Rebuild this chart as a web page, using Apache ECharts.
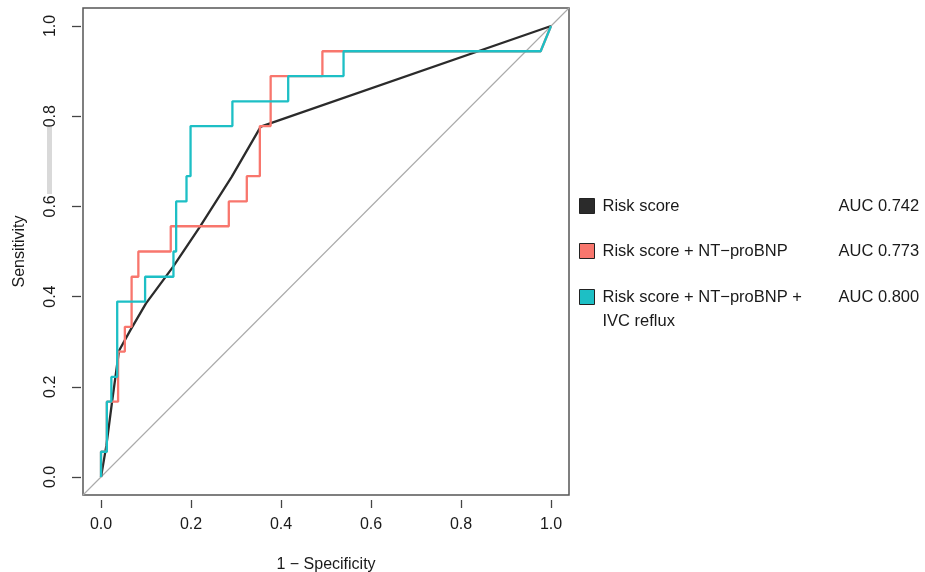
<!DOCTYPE html>
<html><head><meta charset="utf-8">
<script src="https://cdn.jsdelivr.net/npm/echarts@6/dist/echarts.min.js"></script>
<style>html,body{margin:0;padding:0;background:#fff}#c{width:925px;height:572px}</style>
</head><body><div id="c"></div>
<script>
// ---- data ----
const seriesNames = ['Risk score', 'Risk score + NT−proBNP', 'Risk score + NT−proBNP + IVC reflux'];
const aucLabels = ['AUC 0.742', 'AUC 0.773', 'AUC 0.800'];
const seriesColors = ['#2b2b2b', '#F8766D', '#1DBFC5'];

// Risk score (1 - specificity, sensitivity)
const riskX = [0, 0.012, 0.025, 0.04, 0.065, 0.10, 0.16, 0.22, 0.29, 0.355, 1];
const riskY = [0, 0.07, 0.17, 0.28, 0.325, 0.385, 0.466, 0.555, 0.665, 0.777, 1];

// Risk score + NT-proBNP
const ntX = [0, 0, 0.013, 0.013, 0.038, 0.038, 0.053, 0.053, 0.068, 0.068, 0.083, 0.083, 0.155, 0.155, 0.284, 0.284, 0.324, 0.324, 0.353, 0.353, 0.377, 0.377, 0.492, 0.492, 0.977, 1];
const ntY = [0, 0.056, 0.056, 0.167, 0.167, 0.278, 0.278, 0.333, 0.333, 0.444, 0.444, 0.5, 0.5, 0.556, 0.556, 0.611, 0.611, 0.667, 0.667, 0.778, 0.778, 0.889, 0.889, 0.944, 0.944, 1];

// Risk score + NT-proBNP + IVC reflux
const ivcX = [0, 0, 0.013, 0.013, 0.023, 0.023, 0.036, 0.036, 0.098, 0.098, 0.161, 0.161, 0.167, 0.167, 0.19, 0.19, 0.199, 0.199, 0.292, 0.292, 0.416, 0.416, 0.539, 0.539, 0.977, 1];
const ivcY = [0, 0.056, 0.056, 0.167, 0.167, 0.222, 0.222, 0.389, 0.389, 0.444, 0.444, 0.5, 0.5, 0.611, 0.611, 0.667, 0.667, 0.778, 0.778, 0.833, 0.833, 0.889, 0.889, 0.944, 0.944, 1];

// reference diagonal (spans the whole plot box)
const diagX = [-0.04, 1.04];
const diagY = [-0.04, 1.04];

const tickInterval = 0.2;

// ---- chart ----
const FONT = '"Liberation Sans", Arial, Helvetica, sans-serif';
const TXT = '#1a1a1a';
const zip = (xs, ys) => xs.map((x, i) => [x, ys[i]]);

const chart = echarts.init(document.getElementById('c'), null, {renderer: 'canvas'});

function legendFor(i, top, twoLine) {
  return {
    show: true,
    data: [seriesNames[i]],
    orient: 'vertical',
    left: 579,
    top: top,
    padding: 0,
    itemWidth: 15,
    itemHeight: 15,
    itemGap: 0,
    icon: 'rect',
    selectedMode: false,
    itemStyle: {color: seriesColors[i], borderColor: '#222', borderWidth: 1},
    formatter: function (name) {
      if (twoLine) {
        return '{n|Risk score + NT−proBNP +}{v|' + aucLabels[i] + '}\n{n|IVC reflux}';
      }
      return '{n|' + name + '}{v|' + aucLabels[i] + '}';
    },
    textStyle: {
      fontFamily: FONT, fontSize: 16.5, color: TXT,
      lineHeight: 24,
      padding: twoLine ? [24, 0, 0, 3] : [0, 0, 0, 3],
      rich: {
        n: {fontFamily: FONT, fontSize: 16.5, color: TXT, width: 236, lineHeight: 24},
        v: {fontFamily: FONT, fontSize: 16.5, color: TXT, lineHeight: 24}
      }
    }
  };
}

const hiddenAxis = (gi, min, max) => ({gridIndex: gi, type: 'value', min: min, max: max, show: false});
const gridBase = {show: false, containLabel: false, outerBoundsMode: 'none'};

const option = {
  backgroundColor: '#fff',
  animation: false,
  grid: [
    // 0: data area (0..1)
    Object.assign({}, gridBase, {left: 101, top: 26, width: 450, height: 451}),
    // 1: plot box (-0.04..1.04)
    Object.assign({}, gridBase, {left: 83, top: 8, width: 486, height: 487, show: true, borderColor: '#555', borderWidth: 1.5, backgroundColor: 'transparent'}),
    // 2: x-axis ticks, below the box
    Object.assign({}, gridBase, {left: 101, top: 26, width: 450, height: 474}),
    // 3: y-axis ticks, left of the box
    Object.assign({}, gridBase, {left: 81, top: 26, width: 470, height: 451})
  ],
  legend: [
    legendFor(0, 206 - 12, false),
    legendFor(1, 251 - 12, false),
    legendFor(2, 297 - 36, true)
  ],
  xAxis: [
    hiddenAxis(0, 0, 1),
    hiddenAxis(1, -0.04, 1.04),
    {
      gridIndex: 2, type: 'value', min: 0, max: 1, interval: tickInterval,
      axisLine: {show: false, onZero: false},
      axisTick: {show: true, length: 8, lineStyle: {color: '#444', width: 1.3}},
      axisLabel: {formatter: v => v.toFixed(1), fontFamily: FONT, fontSize: 16, color: TXT, margin: 17},
      splitLine: {show: false},
      name: '1 − Specificity', nameLocation: 'middle', nameGap: 57,
      nameTextStyle: {fontFamily: FONT, fontSize: 16, color: TXT}
    },
    hiddenAxis(3, 0, 1)
  ],
  yAxis: [
    hiddenAxis(0, 0, 1),
    hiddenAxis(1, -0.04, 1.04),
    hiddenAxis(2, 0, 1),
    {
      gridIndex: 3, type: 'value', min: 0, max: 1, interval: tickInterval,
      axisLine: {show: false, onZero: false},
      axisTick: {show: true, length: 9, lineStyle: {color: '#444', width: 1.3}},
      axisLabel: {formatter: v => v.toFixed(1), fontFamily: FONT, fontSize: 16, color: TXT, margin: 22, rotate: 90},
      splitLine: {show: false},
      name: 'Sensitivity', nameLocation: 'middle', nameGap: 53.5,
      nameTextStyle: {fontFamily: FONT, fontSize: 16, color: TXT}
    }
  ],
  graphic: [
    {type: 'rect', left: 47, top: 127, shape: {width: 5, height: 67}, style: {fill: '#d9d9d9'}, silent: true}
  ],
  series: [
    {
      name: 'diag', type: 'line', xAxisIndex: 1, yAxisIndex: 1,
      data: zip(diagX, diagY), symbol: 'none', clip: false,
      lineStyle: {color: '#aaaaaa', width: 1.1}, z: 1
    },
    {
      name: seriesNames[0], type: 'line', xAxisIndex: 0, yAxisIndex: 0,
      data: zip(riskX, riskY), symbol: 'none', clip: false,
      itemStyle: {color: seriesColors[0]},
      lineStyle: {color: seriesColors[0], width: 2.3}, z: 2
    },
    {
      name: seriesNames[1], type: 'line', xAxisIndex: 0, yAxisIndex: 0,
      data: zip(ntX, ntY), symbol: 'none', clip: false,
      itemStyle: {color: seriesColors[1]},
      lineStyle: {color: seriesColors[1], width: 2.3}, z: 3
    },
    {
      name: seriesNames[2], type: 'line', xAxisIndex: 0, yAxisIndex: 0,
      data: zip(ivcX, ivcY), symbol: 'none', clip: false,
      itemStyle: {color: seriesColors[2]},
      lineStyle: {color: seriesColors[2], width: 2.3}, z: 4
    }
  ]
};
chart.setOption(option);
</script>
</body></html>
